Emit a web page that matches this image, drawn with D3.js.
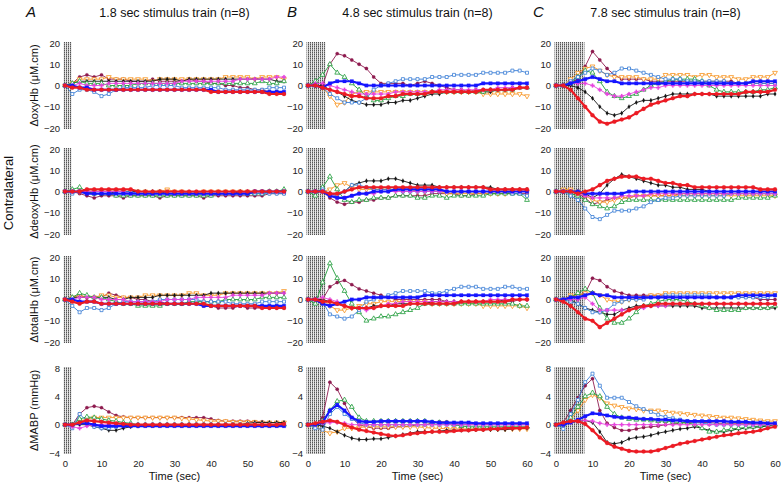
<!DOCTYPE html>
<html>
<head>
<meta charset="utf-8">
<script src="https://cdn.jsdelivr.net/npm/d3@7"></script>
<style>
  body { margin: 0; background: #fff; }
  svg { display: block; font-family: Arial, "Liberation Sans", Helvetica, sans-serif; }
</style>
</head>
<body>
<svg width="782" height="485"></svg>
<script>
// sample times (sec)
const times = [0,2,4,6,8,10,12,14,16,18,20,22,24,26,28,30,32,34,36,38,40,42,44,46,48,50,52,54,56,58,60];

// series order in every panel array below
const seriesKeys = ['maroon','orange','black','green','lightblue','pink','blue','red'];

const stimDurations = [1.8, 4.8, 7.8];
const panelLetters = ['A', 'B', 'C'];
const columnTitles = ['1.8 sec stimulus train (n=8)', '4.8 sec stimulus train (n=8)', '7.8 sec stimulus train (n=8)'];
const rowLabels = ['\u0394oxyHb (\u03bcM.cm)', '\u0394deoxyHb (\u03bcM.cm)', '\u0394totalHb (\u03bcM.cm)', '\u0394MABP (mmHg)'];
const sideLabel = 'Contralateral';
const hbTicks = [-20, -10, 0, 10, 20];
const mabpTicks = [-4, 0, 4, 8];
const timeTicks = [0, 10, 20, 30, 40, 50, 60];

// ---- oxyHb ----
const oxyA = [
  [0,1,4,5,4,5, 3,3,3,2,2, 2,3,2,2,2, 2,3,2,2,1, 1,0,0,-1,-1, -2,-2,-3,-3,-4],
  [0,1,3,3,3,3, 4,3,3,3,3, 3,2,3,3,3, 3,3,3,3,3, 3,4,4,4,4, 3,4,4,4,3],
  [0,1,2,2,2,2, 2,2,2,2,2, 2,2,3,3,3, 2,3,3,3,3, 3,3,3,3,3, 3,3,3,2,2],
  [0,1,2,1,1,1, 0,0,0,0,1, 1,1,1,1,1, 1,1,1,1,1, 1,1,1,1,1, 1,2,1,1,2],
  [0,-4,-2,-2,-3,-5, -4,-2,-1,-1,-1, -1,0,0,0,0, -1,-1,-1,-1,-1, -1,-2,-2,-2,-2, -2,-2,-1,-1,-1],
  [0,0,1,0,0,0, 1,1,1,1,1, 1,1,1,1,1, 2,2,2,2,2, 2,2,2,3,3, 3,3,3,4,4],
  [0,0,-1,-1,-2,-2, -2,-2,-2,-2,-2, -2,-2,-2,-2,-2, -2,-2,-2,-2,-2, -3,-3,-3,-3,-3, -3,-3,-3,-3,-3],
  [0,-1,-1,-2,-2,-2, -2,-2,-2,-2,-2, -2,-2,-2,-2,-2, -2,-2,-2,-2,-3, -3,-3,-3,-3,-3, -3,-3,-4,-4,-4]
];
const oxyB = [
  [0,0,0,10,15,14, 12,10,8,4,1, 1,1,1,0,1, 2,1,0,-1,-2, -2,-3,-2,-2,-2, -2,-2,-1,-1,-1],
  [0,0,-1,-5,-9,-8, -4,-3,-3,-3,-3, -3,-3,-3,-3,-3, -3,-3,-3,-3,-3, -3,-3,-3,-4,-4, -4,-4,-4,-4,-5],
  [0,0,0,-2,-3,-5, -7,-8,-9,-9,-9, -8,-8,-7,-7,-6, -5,-4,-4,-3,-3, -3,-3,-3,-3,-3, -2,-2,-2,-1,-1],
  [0,2,5,10,6,4, 1,-2,-5,-7,-7, -6,-5,-5,-4,-4, -4,-3,-3,-3,-3, -3,-3,-3,-3,-2, -2,-2,-2,-1,-1],
  [0,0,-1,-4,-6,-8, -8,-8,-6,-2,0, 1,2,3,3,3, 3,4,4,4,5, 5,5,5,6,6, 6,6,7,7,6],
  [0,1,1,0,-1,-2, -3,-4,-4,-4,-4, -4,-3,-3,-3,-3, -3,-3,-2,-2,-2, -2,-2,-2,-2,-2, -1,-1,-1,-1,-1],
  [0,0,-1,1,2,2, 2,1,0,0,0, 0,0,0,0,0, 0,0,0,0,0, 0,0,0,1,1, 1,1,1,1,1],
  [0,0,-1,-2,-3,-4, -5,-5,-6,-6,-6, -5,-5,-4,-4,-4, -4,-3,-3,-3,-3, -3,-3,-3,-2,-2, -2,-2,-2,-1,-1]
];
const oxyC = [
  [0,0,1,3,9,16, 12,8,5,3,3, 3,3,2,2,2, 2,2,2,2,2, 2,2,2,2,1, 1,1,1,1,1],
  [0,0,3,6,8,9, 7,5,4,4,4, 4,3,3,3,5, 5,5,5,4,5, 5,4,4,4,3, 3,4,4,4,6],
  [0,0,0,-1,-3,-6, -10,-13,-14,-13,-10, -8,-7,-7,-6,-5, -4,-4,-4,-4,-4, -4,-5,-5,-5,-5, -5,-5,-5,-4,-4],
  [0,0,1,4,7,6, 2,-3,-5,-6,-5, -4,-2,0,1,2, 3,3,3,3,2, 0,-2,-3,-3,-3, -3,-3,-2,-2,-1],
  [0,0,2,4,6,8, 7,5,6,8,8, 7,6,5,4,3, 3,3,2,2,2, 2,2,2,1,1, 1,1,1,1,1],
  [0,0,1,1,1,0, -2,-4,-5,-5,-4, -3,-2,-1,-1,0, 0,0,0,0,0, 0,0,0,0,0, 0,0,0,0,0],
  [0,0,1,2,3,4, 3,2,2,1,1, 1,1,1,1,1, 1,1,1,1,1, 1,1,1,1,1, 1,2,2,2,2],
  [0,0,-2,-6,-10,-14, -17,-18,-17,-16,-15, -13,-11,-9,-8,-7, -6,-5,-5,-4,-4, -4,-4,-4,-4,-4, -3,-3,-3,-3,-2]
];

// ---- deoxyHb ----
const deoxyA = [
  [0,0,-1,-2,-3,-2, -2,-2,-3,-2,-2, -2,-2,-3,-2,-2, -2,-2,-2,-3,-2, -2,-2,-2,-2,-2, -2,-2,-1,-1,-1],
  [0,0,0,0,0,0, 0,0,0,0,0, 0,-1,0,1,0, 0,-1,-1,0,0, 0,0,0,0,0, 0,0,0,0,0],
  [0,0,0,0,-1,-1, -1,0,0,0,0, 0,0,0,-1,-1, -1,-1,-1,-1,-1, -1,-1,-1,0,0, 0,0,0,0,0],
  [0,1,2,0,-1,-1, -1,-2,-2,-2,-2, -2,-2,-2,-2,-2, -2,-2,-2,-2,-2, -1,-1,-1,-1,-1, -1,-1,0,0,1],
  [0,-1,0,0,0,0, 0,0,0,0,-1, -1,-1,-1,-1,-1, -1,-1,-1,-1,-1, -1,-1,-1,-1,-1, -1,-1,-1,-1,-1],
  [0,0,0,0,0,0, 0,0,0,-1,-1, -1,-1,-1,-1,-1, -1,-1,-1,-1,-1, -1,-1,-1,-1,0, 0,0,0,0,0],
  [0,0,0,-1,-1,-1, -1,-1,-1,-1,-1, -1,-1,-1,-1,-1, -1,-1,-1,-1,-1, -1,-1,-1,-1,-1, 0,0,0,0,0],
  [0,0,0,1,1,1, 1,1,1,1,0, 0,0,0,0,0, 0,0,0,0,0, 0,0,0,0,0, 0,0,0,0,0]
];
const deoxyB = [
  [0,0,0,-3,-5,-6, -5,-5,-4,-4,-3, -3,-2,-2,-2,-2, -2,-1,-1,-1,-1, -2,-2,-1,-1,-1, -1,-1,-1,-1,-1],
  [0,0,0,1,3,4, 2,1,1,1,1, 1,1,1,1,0, 0,0,0,-1,-1, -1,-1,-1,-1,-1, -1,-1,0,0,0],
  [0,0,0,-1,-2,0, 3,4,5,5,5, 6,6,5,4,3, 3,3,2,2,2, 2,2,2,2,2, 1,1,1,1,1],
  [0,-2,2,7,1,-4, -5,-4,-4,-3,-3, -3,-2,-2,-2,-3, -3,-2,-2,-3,-2, -2,-2,-2,-2,-1, -1,-1,-1,-1,-4],
  [0,0,1,-1,-2,0, 3,3,2,1,1, 1,1,0,0,0, 0,0,0,0,0, 0,0,0,0,0, 0,0,-1,-1,-2],
  [0,0,0,-1,-3,-3, -2,-1,-1,-1,0, 0,0,0,0,0, 0,0,0,0,0, 0,0,0,0,0, 0,0,0,0,0],
  [0,0,0,-2,-3,-3, -2,-1,-1,0,0, 0,1,1,1,1, 1,1,1,0,0, 0,0,0,0,0, 0,0,0,0,0],
  [0,0,0,-1,-1,0, 1,2,2,2,2, 2,2,2,2,2, 2,2,2,2,2, 2,2,2,2,1, 1,1,1,1,1]
];
const deoxyC = [
  [0,0,0,-1,-3,-6, -5,-4,-3,-3,-3, -2,-2,-2,-2,-2, -2,-1,-1,-1,-1, -1,-1,-1,-1,-1, -1,-1,-1,-1,-1],
  [0,1,1,0,-2,-4, -5,-5,-4,-3,-3, -2,-2,-2,-2,-2, -2,-2,-2,-2,-2, -2,-2,-2,-2,-2, -2,-2,-2,-2,-2],
  [0,0,0,0,-1,-3, -1,3,6,8,7, 6,5,4,3,3, 2,2,1,1,1, 0,0,0,0,0, 0,0,0,0,0],
  [0,0,-1,-2,-4,-6, -7,-8,-7,-5,-4, -4,-4,-4,-4,-4, -4,-4,-4,-4,-4, -4,-4,-4,-4,-3, -3,-3,-3,-3,-2],
  [0,0,-2,-4,-8,-12, -13,-11,-9,-9,-9, -8,-7,-5,-4,-3, -3,-2,-2,-2,-2, -2,-2,-2,-1,-1, -1,-1,-1,-1,-1],
  [0,0,0,-1,-2,-3, -3,-3,-3,-2,-2, -2,-2,-1,-1,-1, -1,-1,-1,-1,-1, -1,-1,-1,-1,-1, -1,-1,-1,-1,-1],
  [0,0,0,0,-1,-1, -1,-1,-1,-1,0, 0,0,0,0,0, 0,0,0,0,0, 0,0,0,0,0, 0,0,0,0,0],
  [0,0,0,-1,0,1, 3,5,6,7,7, 7,6,6,5,4, 4,3,3,2,2, 2,2,2,2,2, 2,2,1,1,1]
];

// ---- totalHb ----
const totalA = [
  [0,1,2,1,1,1, 3,2,1,1,0, 0,-1,-1,-2,-2, -2,-2,-2,-3,-3, -4,-4,-4,-3,-4, -4,-4,-4,-4,-4],
  [0,1,2,1,1,2, 2,1,1,1,1, 2,2,2,2,2, 2,3,3,2,2, 2,3,3,3,3, 3,3,3,3,4],
  [0,1,1,1,1,1, 1,0,0,1,1, 1,1,2,2,2, 2,2,2,2,3, 3,3,3,3,3, 3,3,3,3,3],
  [0,1,3,2,1,1, 0,-1,-2,-2,-3, -3,-3,-3,-2,-2, -2,-1,-1,-1,-1, -1,0,0,0,0, 0,1,1,1,1],
  [0,-3,-6,-4,-4,-5, -4,-2,-1,-1,-1, -1,-1,0,0,0, 0,0,0,-1,-1, -1,-1,-2,-2,-2, -2,-1,-1,-1,-1],
  [0,0,1,1,1,0, 0,0,0,-1,-1, -1,-1,-1,0,0, 0,0,1,1,1, 1,1,2,2,2, 2,2,3,3,3],
  [0,0,-1,-1,-1,-2, -2,-2,-2,-2,-2, -2,-2,-2,-2,-2, -2,-2,-2,-3,-3, -3,-3,-3,-3,-3, -3,-3,-3,-3,-3],
  [0,-1,-2,-1,-1,-2, -2,-2,-2,-2,-2, -2,-2,-2,-2,-2, -2,-2,-2,-2,-3, -3,-3,-3,-3,-3, -3,-4,-4,-4,-4]
];
const totalB = [
  [0,0,0,6,8,9, 7,5,4,3,2, 1,0,0,0,0, 0,0,0,-1,-1, -1,-1,-1,-1,-1, -1,-1,-1,0,0],
  [0,0,0,-3,-5,-5, -4,-3,-2,-2,-1, -1,-1,-1,-1,-1, -1,-2,-2,-2,-2, -2,-2,-2,-3,-3, -3,-3,-3,-3,-4],
  [0,0,0,-1,-2,-3, -4,-4,-4,-3,-3, -3,-2,-2,-2,-2, -2,-1,-1,-1,-1, -1,-1,-1,-1,-1, -1,0,0,0,0],
  [0,-2,8,17,10,4, -2,-6,-10,-9,-8, -8,-7,-6,-5,-4, -2,-2,-2,-2,-2, -2,-2,-2,-2,-2, -2,-2,-2,-3,-3],
  [0,0,-1,-7,-8,-9, -8,-5,-1,0,1, 2,3,4,4,4, 4,3,3,4,5, 6,6,6,5,5, 5,6,6,5,5],
  [0,0,1,0,-1,-3, -4,-4,-5,-4,-3, -2,-2,-1,-1,-1, -1,-1,-1,-1,-1, -1,-1,-1,-1,0, 0,0,0,0,0],
  [0,0,-2,-3,-2,-1, 0,0,1,1,1, 1,1,1,1,1, 2,2,2,2,2, 2,2,2,2,2, 2,2,2,2,2],
  [0,0,-1,-1,-2,-3, -4,-4,-4,-4,-3, -3,-3,-3,-2,-2, -2,-2,-2,-2,-2, -1,-1,-1,-1,-1, -1,-1,0,0,0]
];
const totalC = [
  [0,0,1,2,3,10, 9,6,4,3,2, 2,2,2,2,2, 1,1,1,1,1, 1,1,1,1,1, 1,1,0,0,0],
  [0,0,2,2,3,3, 2,0,-1,-1,0, 0,1,2,2,3, 3,3,3,3,3, 3,3,3,3,3, 3,3,3,3,3],
  [0,0,0,-2,-4,-5, -6,-7,-7,-5,-4, -3,-3,-3,-3,-3, -3,-3,-3,-3,-4, -4,-4,-4,-4,-4, -4,-4,-4,-4,-4],
  [0,0,1,3,5,3, -4,-9,-11,-11,-9, -6,-3,-2,-1,0, 0,0,-1,-2,-3, -4,-5,-5,-5,-5, -4,-4,-4,-4,-3],
  [0,0,-1,-2,-4,-6, -6,-5,-2,-1,0, 0,0,1,1,2, 2,2,2,2,2, 2,1,1,1,1, 1,1,1,1,2],
  [0,0,0,0,1,-2, -5,-5,-5,-5,-5, -4,-4,-3,-3,-3, -2,-2,-2,-2,-2, -2,-2,-2,-2,-2, -2,-2,-2,-2,-2],
  [0,0,1,1,2,3, 2,2,1,1,1, 1,1,1,1,1, 1,1,1,1,1, 1,1,1,1,2, 2,2,2,2,2],
  [0,-1,-3,-6,-9,-10, -13,-11,-9,-7,-5, -4,-3,-3,-2,-2, -2,-2,-2,-2,-2, -2,-2,-2,-2,-2, -2,-2,-2,-2,-2]
];

// ---- MABP ----
const mabpA = [
  [0,0,1.5,2.4,2.6,2.4, 1.8,1.3,1.1,1,1, 1,1,1,1,1, 1,1,1,1,0.8, 0.6,0.5,0.5,0.5,0.5, 0.4,0.4,0.3,0.3,0.3],
  [0,0,0.5,0.8,1,1, 1,1,1,1,1, 1,1,1,1,1, 0.9,0.8,0.7,0.6,0.5, 0.5,0.5,0.4,0.4,0.4, 0.4,0.3,0.3,0.3,0.3],
  [0,0,0,0,-0.3,-0.5, -0.8,-0.8,-0.5,-0.3,-0.2, 0,0,0,0,0, 0,0,0,0,0, 0,0,0,0,0.2, 0.3,0.3,0.3,0.3,0.3],
  [0,0,0.8,1.1,1,0.8, 0.6,0.5,0.3,0.2,0, 0,0,0,0,0, 0,0,0,0,0, 0,0,0,0,0, 0,0,0,0,0],
  [0,-0.5,1.5,0.5,-0.3,-0.5, -0.5,-0.3,0,0,0, 0,0,0,0,0, 0,0,0,0,0, 0,0,0,0,0, 0,0,0,0,0],
  [0,-0.3,-0.5,-0.2,0,0, 0,0,0,0,0, 0,0,0,0,0, 0,0,0,0,0, 0,0,0,0,0, 0,0,0,0,0],
  [0,0,0.2,0.2,0,-0.2, -0.2,-0.2,-0.2,-0.2,-0.2, -0.2,-0.2,-0.2,-0.2,-0.2, -0.2,-0.2,-0.2,-0.2,-0.2, -0.2,-0.2,-0.2,-0.2,-0.2, -0.2,-0.2,-0.2,-0.2,-0.2],
  [0,0,0.3,0.6,0.5,0.4, 0.3,0.2,0.1,0,0, 0,0,0,0,0, 0,0,0,0,0, 0,0,0,0,0, 0,0,0,0,0.1]
];
const mabpB = [
  [0,0,1,6,5,3, 1,0,-0.3,-0.5,-0.5, -0.5,-0.3,-0.3,-0.2,0, 0,0.2,0.4,0.4,0.2, 0,0,0,0,0, 0,0,0,0,0],
  [0,-0.3,-0.8,-1.2,-1,-0.5, -0.5,-0.4,-0.3,-0.3,-0.3, -0.3,-0.3,-0.3,-0.3,-0.3, -0.4,-0.5,-0.5,-0.6,-0.6, -0.6,-0.6,-0.6,-0.6,-0.6, -0.6,-0.6,-0.6,-0.6,-0.6],
  [0,0,-0.2,-0.5,-1,-1.5, -1.9,-2.1,-2.1,-2,-2, -1.8,-1.6,-1.4,-1.2,-1, -1,-1,-0.9,-0.8,-0.8, -0.8,-0.8,-0.7,-0.7,-0.7, -0.7,-0.7,-0.6,-0.5,-0.5],
  [0,0,0.5,2,3.3,3.5, 2.5,1,0.5,0.5,0.5, 0.5,0.5,0.5,0.5,0.5, 0.5,0.3,0.3,0.2,0, -0.2,-0.3,-0.3,-0.3,-0.3, -0.3,-0.3,-0.3,-0.3,-0.3],
  [0,-0.5,-0.7,1.5,2.5,1.5, 0.8,0.3,0,0,0, 0,0,0,0,0, 0,0,0,0,0, 0,0,0,0,0, 0,0,0,0,0],
  [0,0,0.2,0.3,0.3,0.2, 0,0,0,0,0, 0,0,0,0,0, 0,0,0,0,0, 0,0,0,0,0, 0,0,0,0,0],
  [0,0,0.3,2,2.8,2, 1,0.5,0.4,0.4,0.5, 0.5,0.5,0.5,0.5,0.5, 0.5,0.4,0.3,0.3,0.3, 0.3,0.3,0.2,0.2,0.2, 0.2,0.2,0.2,0.2,0.2],
  [0,0.2,0.4,0.6,0.4,0, -0.4,-0.7,-0.9,-1.1,-1.3, -1.5,-1.6,-1.5,-1.3,-1.2, -1.1,-1,-1,-1,-0.9, -0.8,-0.8,-0.7,-0.7,-0.6, -0.6,-0.5,-0.5,-0.5,-0.4]
];
const mabpC = [
  [0,0.3,2,3.8,5.5,6.5, 2,0.2,-0.4,-0.8,-0.8, -0.6,-0.4,-0.3,-0.2,0, 0.1,0.2,0.3,0.3,0.3, 0.3,0.2,0.2,0.2,0.2, 0.2,0.1,0.1,0,0],
  [0,0,0.8,2,3.5,4.2, 3.8,3,2.7,2.5,2.3, 2.2,2,2,2,1.8, 1.7,1.6,1.5,1.4,1.3, 1.2,1.1,1,1,0.9, 0.8,0.7,0.6,0.5,0.5],
  [0,0,0.3,0.5,0.6,0.3, -1,-2.5,-2.7,-2.5,-2, -1.8,-1.7,-1.5,-1.2,-1, -0.8,-0.6,-0.5,-0.3,-0.5, -0.8,-1,-1,-0.8,-0.6, -0.5,-0.4,-0.3,-0.2,0],
  [0,0,1,2.5,4,4.5, 4,2.5,1.5,1,0.8, 0.7,0.7,0.6,0.5,0.5, 0.4,0.3,0.3,0,-0.5, -1,-1,-0.8,-0.6,-0.5, -0.4,-0.3,-0.2,-0.1,0],
  [0,-0.6,1.5,3.5,6,7.2, 5.5,3.8,3.8,3.8,3.2, 2.6,2.2,1.8,1.4,1.1, 0.9,0.7,0.5,0.3,0.2, 0.1,0,0,0,0, 0,0,0,0,0],
  [0,0,0.3,0.5,0.6,0.5, 0.2,0,0,0,0, 0,0,0,0,0, 0,0,0,0,0, 0,0,0,0,0, 0,0,0,0,0],
  [0,0,0.3,0.7,1.2,1.6, 1.5,1.3,1.1,1,1, 0.9,0.8,0.8,0.7,0.7, 0.6,0.6,0.5,0.5,0.5, 0.5,0.5,0.5,0.4,0.4, 0.4,0.3,0.3,0.2,0.2],
  [0,0.3,0.5,0.5,0.1,-0.8, -1.8,-2.6,-3.1,-3.4,-3.7, -3.8,-3.8,-3.8,-3.6,-3.3, -3,-2.7,-2.5,-2.3,-2.1, -1.9,-1.7,-1.5,-1.4,-1.2, -1.1,-1,-0.8,-0.5,-0.3]
];

const rows = [
  { ticks: hbTicks, domain: [-20, 20], panels: [oxyA, oxyB, oxyC] },
  { ticks: hbTicks, domain: [-20, 20], panels: [deoxyA, deoxyB, deoxyC] },
  { ticks: hbTicks, domain: [-20, 20], panels: [totalA, totalB, totalC] },
  { ticks: mabpTicks, domain: [-4, 8], panels: [mabpA, mabpB, mabpC] }
];

// marker / line look for each series
const styles = {
  maroon:    { color: '#8e1b4f', symbol: d3.symbolCircle,   size: 9,  open: false, lw: 0.9 },
  orange:    { color: '#f7931e', symbol: d3.symbolTriangle, size: 10, open: true,  lw: 0.9, flip: true },
  black:     { color: '#151515', symbol: d3.symbolDiamond,  size: 6,  open: false, lw: 0.9 },
  green:     { color: '#1f9c3a', symbol: d3.symbolTriangle, size: 10, open: true,  lw: 0.9 },
  lightblue: { color: '#3a7ed6', symbol: d3.symbolSquare,   size: 9,  open: true,  lw: 0.9 },
  pink:      { color: '#e845de', symbol: d3.symbolCross,    size: 9,  open: false, lw: 0.9 },
  blue:      { color: '#1616ff', symbol: d3.symbolSquare,   size: 12, open: false, lw: 2.2 },
  red:       { color: '#ec1c24', symbol: d3.symbolCircle,   size: 13, open: false, lw: 2.2 }
};

const svg = d3.select('svg');

// layout
const colLeft = [65, 308, 556];
const plotW = 219;
const rowTop = [43, 149, 257, 368];
const plotH = 85;
const letterX = [26, 287, 533];

// hatched stimulus band
const pat = svg.append('defs').append('pattern')
  .attr('id', 'hatch')
  .attr('patternUnits', 'userSpaceOnUse')
  .attr('width', 2).attr('height', 2);
pat.append('rect').attr('width', 2).attr('height', 2).attr('fill', '#e6e6e6');
pat.append('rect').attr('width', 1).attr('height', 2).attr('fill', '#9c9c9c');
pat.append('rect').attr('width', 1).attr('height', 1).attr('fill', '#555');

// column titles and letters
columnTitles.forEach((t, c) => {
  svg.append('text')
    .attr('x', colLeft[c] + plotW / 2)
    .attr('y', 17)
    .attr('text-anchor', 'middle')
    .attr('font-size', 12.5)
    .attr('fill', '#111')
    .text(t);
  svg.append('text')
    .attr('x', letterX[c])
    .attr('y', 17)
    .attr('font-size', 15)
    .attr('font-style', 'italic')
    .attr('fill', '#111')
    .text(panelLetters[c]);
});

// side label
svg.append('text')
  .attr('transform', 'translate(13,193) rotate(-90)')
  .attr('text-anchor', 'middle')
  .attr('font-size', 13)
  .attr('fill', '#111')
  .text(sideLabel);

rows.forEach((row, r) => {
  const yScale = d3.scaleLinear()
    .domain(row.domain)
    .range([rowTop[r] + plotH, rowTop[r]]);

  // row label
  svg.append('text')
    .attr('transform', `translate(38,${rowTop[r] + plotH / 2}) rotate(-90)`)
    .attr('text-anchor', 'middle')
    .attr('font-size', 11)
    .attr('fill', '#111')
    .text(rowLabels[r]);

  row.panels.forEach((panel, c) => {
    const xScale = d3.scaleLinear()
      .domain([0, 60])
      .range([colLeft[c], colLeft[c] + plotW]);

    const g = svg.append('g');

    // stimulus train
    g.append('rect')
      .attr('x', xScale(0) - 1.5)
      .attr('y', rowTop[r] - 1)
      .attr('width', xScale(stimDurations[c]) - xScale(0) + 1.5)
      .attr('height', plotH + 2)
      .attr('fill', 'url(#hatch)');

    // y axis (labels only)
    const yAxisG = g.append('g')
      .attr('transform', `translate(${xScale(0)},0)`)
      .call(d3.axisLeft(yScale).tickValues(row.ticks).tickSize(0).tickPadding(5));
    yAxisG.select('.domain').remove();
    yAxisG.attr('font-family', null).attr('font-size', 9.5);
    yAxisG.selectAll('text').attr('fill', '#222');

    // x axis on bottom row only
    if (r === rows.length - 1) {
      const xAxisG = g.append('g')
        .attr('transform', `translate(0,${rowTop[r] + plotH})`)
        .call(d3.axisBottom(xScale).tickValues(timeTicks).tickSize(0).tickPadding(7));
      xAxisG.select('.domain').remove();
      xAxisG.attr('font-family', null).attr('font-size', 9.5);
      xAxisG.selectAll('text').attr('fill', '#222');

      xAxisG.append('text')
        .attr('x', colLeft[c] + plotW / 2)
        .attr('y', 27)
        .attr('fill', '#111')
        .attr('font-size', 11)
        .attr('text-anchor', 'middle')
        .text('Time (sec)');
    }

    // series
    const line = d3.line()
      .x((d, i) => xScale(times[i]))
      .y(d => yScale(d));

    panel.forEach((vals, s) => {
      const st = styles[seriesKeys[s]];
      const sg = g.append('g');
      sg.append('path')
        .attr('d', line(vals))
        .attr('fill', 'none')
        .attr('stroke', st.color)
        .attr('stroke-width', st.lw)
        .attr('stroke-linejoin', 'round');

      const sym = d3.symbol().type(st.symbol).size(st.size);
      sg.selectAll('path.pt').data(vals)
        .enter().append('path')
          .attr('class', 'pt')
          .attr('d', sym)
          .attr('transform', (d, i) =>
            `translate(${xScale(times[i])},${yScale(d)})` + (st.flip ? ' rotate(180)' : ''))
          .attr('fill', st.open ? '#fff' : st.color)
          .attr('stroke', st.color)
          .attr('stroke-width', st.open ? 0.8 : 0.2);
    });
  });
});
</script>
</body>
</html>
